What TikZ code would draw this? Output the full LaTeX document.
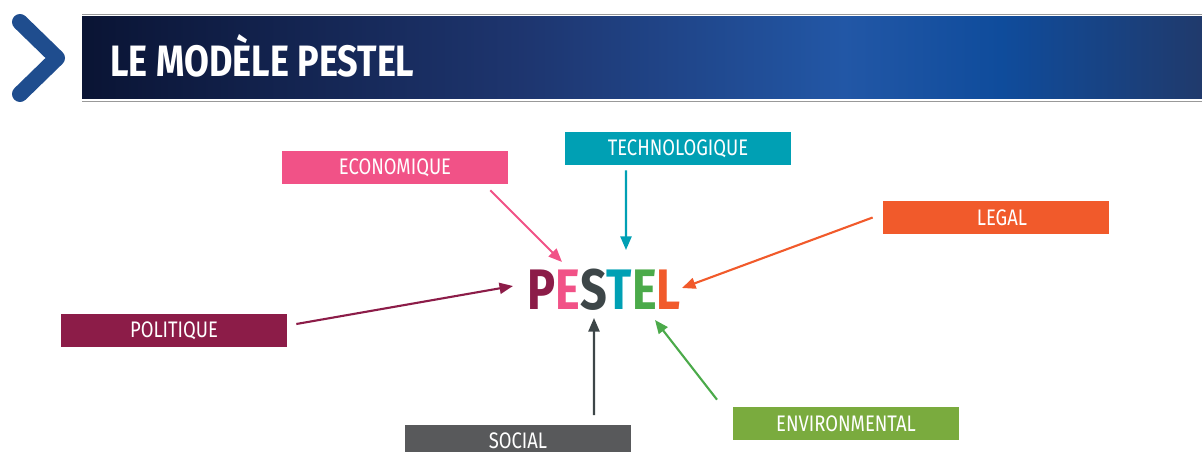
\documentclass[tikz,border=0pt]{standalone}
\usepackage{fontspec}
\setmainfont{Fira Sans}
\newfontfamily\condfont[FakeStretch=0.82]{Fira Sans}
\usetikzlibrary{arrows.meta}

\definecolor{navyA}{HTML}{0A1434}
\definecolor{navyB}{HTML}{1E3670}
\definecolor{navyC}{HTML}{2257A6}
\definecolor{navyD}{HTML}{0F4C9C}
\definecolor{navyE}{HTML}{203A6C}
\definecolor{chevcol}{HTML}{1F4D8E}
\definecolor{polcol}{HTML}{8C1C48}
\definecolor{ecocol}{HTML}{F15287}
\definecolor{soccol}{HTML}{58595B}
\definecolor{soclet}{HTML}{3D4648}
\definecolor{techcol}{HTML}{00A0B4}
\definecolor{envcol}{HTML}{7AAB3E}
\definecolor{envlet}{HTML}{4BAA4A}
\definecolor{legcol}{HTML}{F15A2B}

\pgfdeclarehorizontalshading{bannershade}{100bp}{color(0bp)=(navyA); color(25bp)=(navyA);
  color(45bp)=(navyB); color(59bp)=(navyC); color(66bp)=(navyD); color(75bp)=(navyE); color(100bp)=(navyE)}

\tikzset{
  factor/.style={fill=#1, text=white, minimum width=4.52cm, minimum height=0.66cm,
    inner sep=0pt, font=\condfont\fontsize{12.8}{12.8}\selectfont},
  link/.style={draw=#1, line width=1.2pt, -{Triangle[length=0.27cm,width=0.22cm,fill=#1]}},
}

\begin{document}
\begin{tikzpicture}
\useasboundingbox (0,0) rectangle (24.04,-9.04);
\clip (0,0) rectangle (24.04,-9.04);

% header
\draw[chevcol, line width=0.32cm, line cap=round, line join=round]
  (0.4,-0.44) -- (1.14,-1.16) -- (0.4,-1.88);
\shade[shading=bannershade] (1.64,-0.34) rectangle (24.04,-1.98);
\draw[gray!80, line width=0.8pt] (1.64,-0.29) -- (24.04,-0.29);
\draw[gray!80, line width=0.8pt] (1.64,-2.03) -- (24.04,-2.03);
\node[anchor=base west, inner sep=0pt, text=white, font=\condfont\bfseries\fontsize{25}{25}\selectfont]
  (title) at (2.2,-1.54) {LE MODÈLE PESTEL};

% the word in the middle
\node[anchor=base, inner sep=0pt, font=\condfont\bfseries\fontsize{32.5}{32.5}\selectfont] (pestel) at (12.08,-6.2)
  {\textcolor{polcol}{P}\textcolor{ecocol}{E}\textcolor{soclet}{S}\textcolor{techcol}{T}\textcolor{envlet}{E}\textcolor{legcol}{L}};

% the six factors
\node[factor=ecocol] (eco) at (7.9,-3.35) {ECONOMIQUE};
\node[factor=techcol] (tech) at (13.56,-2.97) {TECHNOLOGIQUE};
\node[factor=legcol] (leg) at (19.92,-4.35) {\hspace*{0.24cm}LEGAL};
\node[factor=polcol] (pol) at (3.48,-6.61) {POLITIQUE};
\node[factor=soccol] (soc) at (10.36,-8.82) {\raisebox{0.03cm}{SOCIAL}};
\node[factor=envcol] (env) at (16.92,-8.47) {ENVIRONMENTAL};

\coordinate (pe) at (11.24,-5.24);
\coordinate (pt) at (12.52,-5.0);
\coordinate (pl) at (13.64,-5.76);
\coordinate (pp) at (10.26,-5.72);
\coordinate (ps) at (11.88,-6.36);
\coordinate (pv) at (13.1,-6.4);

\draw[link=ecocol] ([xshift=-0.36cm,yshift=-0.12cm]eco.south east) -- (pe);
\draw[link=techcol] ([xshift=-1.04cm,yshift=-0.1cm]tech.south) -- (pt);
\draw[link=legcol] ([xshift=-0.2cm]leg.west) -- (pl);
\draw[link=polcol] ([xshift=0.18cm,yshift=0.13cm]pol.east) -- (pp);
\draw[link=soclet] ([xshift=1.52cm,yshift=0.18cm]soc.north) -- (ps);
\draw[link=envlet] ([xshift=-2.58cm,yshift=0.14cm]env.north) -- (pv);
\end{tikzpicture}
\end{document}
